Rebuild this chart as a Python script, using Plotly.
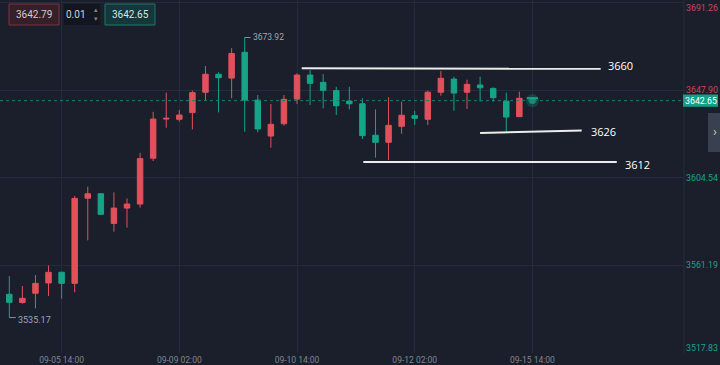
import plotly.graph_objects as go

# ---------------- data ----------------
candle_idx = list(range(40))
opens = [3546.7, 3542.6, 3547.2, 3552.3, 3557.6, 3552.1, 3594.3, 3596.5, 3581.8, 3589.4,
         3591.4, 3614.1, 3633.5, 3633.4, 3636.7, 3646.8, 3655.7, 3653.8, 3666.6, 3642.9,
         3625.1, 3631.2, 3643.4, 3655.3, 3651.7, 3647.6, 3642.4, 3641.1, 3625.5, 3622.0,
         3629.9, 3635.2, 3633.4, 3646.8, 3653.3, 3646.8, 3650.4, 3648.7, 3642.4, 3634.7]
highs = [3555.7, 3550.8, 3556.2, 3561.0, 3557.9, 3595.4, 3600.0, 3596.8, 3597.2, 3594.2,
         3616.8, 3637.1, 3646.6, 3638.0, 3647.6, 3659.8, 3656.7, 3668.6, 3673.92, 3645.4,
         3641.0, 3645.4, 3656.2, 3657.8, 3655.8, 3649.5, 3649.5, 3643.8, 3638.3, 3644.3,
         3642.1, 3637.6, 3647.6, 3657.3, 3654.5, 3653.0, 3654.5, 3649.2, 3646.6, 3647.1]
lows = [3535.17, 3542.0, 3539.7, 3545.8, 3544.5, 3547.7, 3573.4, 3586.0, 3577.7, 3579.7,
        3589.6, 3612.7, 3629.2, 3632.2, 3628.4, 3642.9, 3636.8, 3643.8, 3627.2, 3626.9,
        3619.3, 3630.2, 3641.0, 3640.5, 3638.8, 3635.5, 3638.3, 3623.6, 3614.4, 3613.2,
        3626.2, 3630.6, 3630.6, 3645.1, 3637.6, 3638.5, 3642.1, 3642.1, 3627.2, 3634.5]
closes = [3542.7, 3544.7, 3552.1, 3557.6, 3552.1, 3594.2, 3596.5, 3586.3, 3589.4, 3591.4,
          3613.9, 3633.5, 3633.9, 3635.5, 3646.6, 3655.7, 3654.0, 3666.0, 3642.9, 3628.6,
          3630.9, 3643.3, 3655.3, 3651.2, 3647.75, 3640.1, 3641.1, 3625.3, 3622.0, 3630.4,
          3635.4, 3633.9, 3646.8, 3653.7, 3646.4, 3650.7, 3649.0, 3644.1, 3634.5, 3643.8]

tick_idx = [4, 13, 22, 31, 40]
tick_text = ["09-05 14:00", "09-09 02:00", "09-10 14:00", "09-12 02:00", "09-15 14:00"]
price_levels = [3691.26, 3647.90, 3604.54, 3561.19, 3517.83]
last_idx = 40
last_price = 3642.65
ask_price = "3642.79"
step_text = "0.01"
high_mark = 3673.92
low_mark = 3535.17
drawn_levels = ["3660", "3626", "3612"]

# ---------------- styles ----------------
BG = "#1a1f2b"
GRID = "#252c39"
RED = "#e2505b"
GREEN = "#15a488"
AX_RED = "#c44b56"
AX_GREEN = "#1ea386"
GRAY = "#80868f"
FONT = "Roboto"

W, H = 720, 365
PL, PR, PT, PB = 0, 36, 0, 12
PW, PH = W - PL - PR, H - PT - PB


def px(x):
    return (x - PL) / PW


def py(y):
    return 1 - (y - PT) / PH


def note(x, y, text, size, color, xref="paper", yref="paper", xa="center", ya="middle",
         family=FONT, xs=0, ys=0):
    return dict(x=x, y=y, xref=xref, yref=yref, text=text, showarrow=False,
                xanchor=xa, yanchor=ya, xshift=xs, yshift=ys,
                font=dict(family=family, size=size, color=color))


fig = go.Figure()

fig.add_trace(go.Candlestick(
    x=candle_idx, open=opens, high=highs, low=lows, close=closes,
    increasing=dict(line=dict(color=RED, width=1), fillcolor=RED),
    decreasing=dict(line=dict(color=GREEN, width=1), fillcolor=GREEN),
    whiskerwidth=0, hoverinfo="skip", showlegend=False,
))

# live price glow dot
fig.add_trace(go.Scatter(x=[last_idx], y=[last_price], mode="markers",
                         marker=dict(size=13, color="rgba(21,164,136,0.25)"),
                         hoverinfo="skip", showlegend=False))
fig.add_trace(go.Scatter(x=[last_idx], y=[last_price], mode="markers",
                         marker=dict(size=7, color="rgba(21,164,136,0.75)"),
                         hoverinfo="skip", showlegend=False))
fig.add_trace(go.Scatter(x=[last_idx], y=[last_price + 1.2], mode="markers",
                         marker=dict(symbol="line-ew", size=8, line=dict(width=2, color=GREEN)),
                         hoverinfo="skip", showlegend=False))

shapes = []
annotations = []

# current price dotted line
shapes.append(dict(type="line", xref="paper", yref="y", x0=0, x1=1, y0=last_price, y1=last_price,
                   line=dict(color="#1d7d6b", width=1, dash="dot")))

# drawn support / resistance lines (index, price)
lines_geo = [
    (22.36, 3658.7, 45.22, 3658.4, 46.7, 3659.9),
    (36.0, 3626.6, 43.77, 3627.9, 45.4, 3627.2),
    (27.07, 3612.2, 46.45, 3612.2, 48.0, 3611.2),
]
for label, (x0, y0, x1, y1, lx, ly) in zip(drawn_levels, lines_geo):
    shapes.append(dict(type="line", xref="x", yref="y", x0=x0, y0=y0, x1=x1, y1=y1,
                       line=dict(color="#ececec", width=2)))
    annotations.append(note(lx, ly, label, 11, "#ffffff", xref="x", yref="y", family="Open Sans"))

# high / low markers
shapes.append(dict(type="line", xref="x", yref="y", x0=18, x1=18.45, y0=high_mark, y1=high_mark,
                   line=dict(color="#8a8f98", width=1)))
annotations.append(note(18.45, high_mark, f"{high_mark:.2f}", 8.5, "#a3a8b0", xref="x", yref="y",
                        xa="left", ys=1))
shapes.append(dict(type="line", xref="x", yref="y", x0=0, x1=0.5, y0=low_mark, y1=low_mark,
                   line=dict(color="#8a8f98", width=1)))
annotations.append(note(0.5, low_mark, f"{low_mark:.2f}", 9, "#a3a8b0", xref="x", yref="y",
                        xa="left", ys=-2))

# right axis labels
for i, lv in enumerate(price_levels):
    col = AX_RED if lv > last_price else AX_GREEN
    ys = 0
    if i == 0:
        ys = -5
    elif i == len(price_levels) - 1:
        ys = 5
    annotations.append(note(px(702), lv, f"{lv:.2f}", 8.8, col, yref="y", xa="center", ys=ys))

# current price box on axis
shapes.append(dict(type="line", xref="paper", yref="paper", x0=1, x1=1, y0=0, y1=1,
                   line=dict(color=GRID, width=1)))
shapes.append(dict(type="rect", xref="paper", yref="y", x0=px(683), x1=px(718),
                   y0=last_price - 3.0, y1=last_price + 3.0,
                   fillcolor="#13a087", line=dict(width=0)))
annotations.append(note(px(700.5), last_price, f"{last_price:.2f}", 8.8, "#ffffff", yref="y"))

# side tab
shapes.append(dict(type="rect", xref="paper", yref="paper", x0=px(708), x1=px(722),
                   y0=py(152), y1=py(113), fillcolor="#394150", line=dict(width=0)))
annotations.append(note(px(714.5), py(132), "›", 13, "#c8ccd2"))

# top-left trade controls
shapes.append(dict(type="rect", xref="paper", yref="paper", x0=px(9), x1=px(59), y0=py(25), y1=py(4),
                   fillcolor="#35202a", line=dict(color="#7a3540", width=1)))
annotations.append(note(px(34), py(14.5), ask_price, 10, "#d8c8cc"))
shapes.append(dict(type="rect", xref="paper", yref="paper", x0=px(64), x1=px(100), y0=py(25), y1=py(4),
                   fillcolor="#12161e", line=dict(width=0)))
annotations.append(note(px(76), py(14.5), step_text, 10, "#d0d3d8"))
annotations.append(note(px(96), py(10), "▴", 7, "#7d838d"))
annotations.append(note(px(96), py(19), "▾", 7, "#7d838d"))
shapes.append(dict(type="rect", xref="paper", yref="paper", x0=px(105), x1=px(155), y0=py(25), y1=py(4),
                   fillcolor="#15363a", line=dict(color="#1c7a68", width=1)))
annotations.append(note(px(130), py(14.5), f"{last_price:.2f}", 10, "#d3e8e4"))

fig.update_layout(
    width=W, height=H,
    margin=dict(l=PL, r=PR, t=PT, b=PB, autoexpand=False),
    paper_bgcolor=BG, plot_bgcolor=BG,
    showlegend=False, hovermode=False,
    boxgap=0.4,
    shapes=shapes, annotations=annotations,
    font=dict(family=FONT, size=9, color=GRAY),
)
fig.update_xaxes(
    range=[-0.711, 51.59], rangeslider=dict(visible=False),
    tickmode="array", tickvals=tick_idx, ticktext=tick_text,
    showgrid=True, gridcolor=GRID, gridwidth=1, zeroline=False, showline=False,
    ticks="", tickfont=dict(family=FONT, size=8.5, color=GRAY), automargin=False,
)
fig.update_yaxes(
    range=[3517.6, 3692.5], side="right",
    tickmode="array", tickvals=price_levels, showticklabels=False,
    showgrid=True, gridcolor=GRID, gridwidth=1, zeroline=False, showline=False,
    automargin=False,
)

fig.write_html(
    "out.html",
    config={"displayModeBar": False},
    post_script=("document.body.style.margin='0';document.body.style.overflow='hidden';"
                 "document.body.style.background='%s';" % BG),
)
